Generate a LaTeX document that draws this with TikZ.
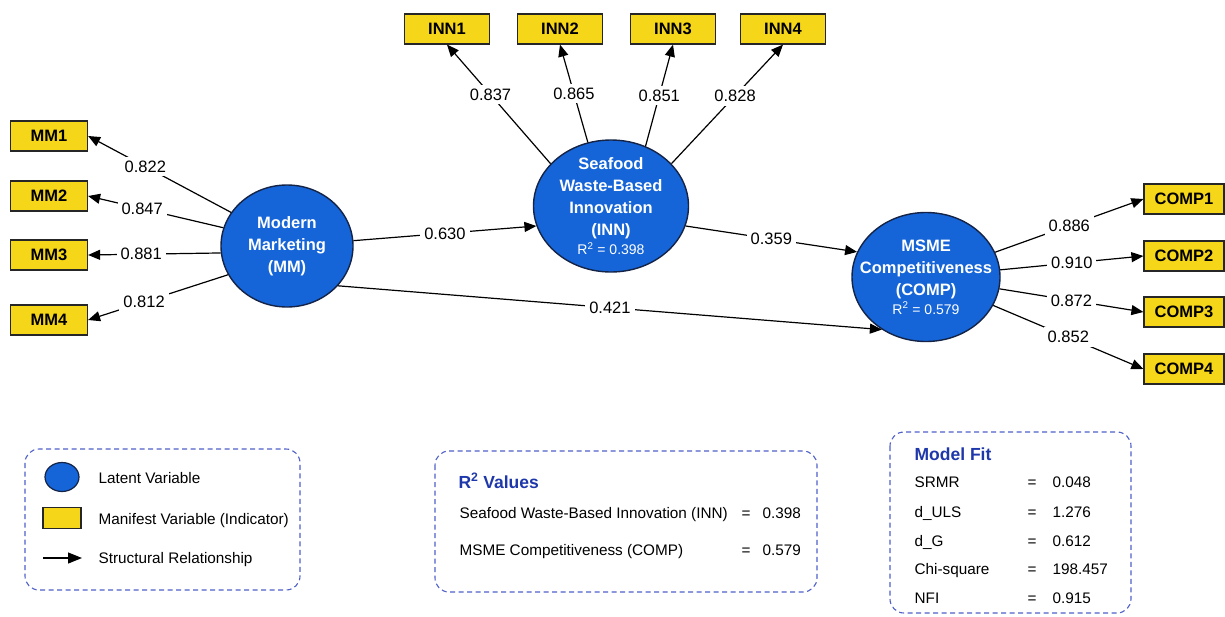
\documentclass[tikz,border=0pt]{standalone}
\usepackage{fontspec}
\setmainfont{Liberation Sans}
\usetikzlibrary{arrows.meta,positioning,shapes.geometric}

\definecolor{latblue}{RGB}{21,101,216}
\definecolor{indyellow}{RGB}{246,214,24}
\definecolor{rimdark}{RGB}{20,35,70}
\definecolor{dashblue}{RGB}{80,96,200}
\definecolor{titleblue}{RGB}{30,55,170}

\tikzset{
  latent/.style={ellipse,draw=rimdark,line width=1.4pt,fill=latblue,text=white,
    font=\fontsize{16.5}{22}\selectfont\bfseries,align=center,inner sep=-30pt},
  indicator/.style={rectangle,draw=black!85,line width=1.2pt,fill=indyellow,
    font=\fontsize{16.5}{20}\selectfont\bfseries,minimum height=30pt,inner sep=0pt},
  load/.style={fill=white,font=\fontsize{16.5}{20}\selectfont,inner sep=4pt},
  legtext/.style={anchor=base west,font=\fontsize{15.3}{18}\selectfont,inner sep=0pt},
  legtitle/.style={anchor=base west,font=\fontsize{17.5}{20}\selectfont\bfseries,text=titleblue,inner sep=0pt},
  legbox/.style={draw=dashblue,line width=1.1pt,dash pattern=on 5pt off 3.5pt,rounded corners=14pt}
}

\begin{document}
\begin{tikzpicture}[x=1pt,y=-1pt,>={Triangle[length=12pt,width=10pt]},line width=1.2pt]
\useasboundingbox (0,0) rectangle (1225,616);

% latente Variablen
\node[latent,minimum width=132pt,minimum height=122pt] (MM) at (287,246) {Modern\\Marketing\\(MM)};
\node[latent,minimum width=155pt,minimum height=132pt] (INN) at (611,206)
  {Seafood\\Waste-Based\\Innovation\\(INN)\\[-3pt]{\fontsize{14}{15}\selectfont\mdseries R\textsuperscript{2} = 0.398}};
\node[latent,minimum width=148pt,minimum height=129pt] (COMP) at (926,277)
  {MSME\\Competitiveness\\(COMP)\\[-3pt]{\fontsize{14}{15}\selectfont\mdseries R\textsuperscript{2} = 0.579}};

% Indikatoren
\foreach \i/\y in {1/136,2/196,3/255,4/320}
  \node[indicator,minimum width=77pt] (MM\i) at (49,\y) {MM\i};
\foreach \i/\x in {1/447,2/560,3/673,4/783}
  \node[indicator,minimum width=85pt] (INN\i) at (\x,29) {INN\i};
\foreach \i/\y in {1/199,2/256,3/312,4/369}
  \node[indicator,minimum width=80pt] (COMP\i) at (1184,\y) {COMP\i};

% Ladungen
\foreach \i/\a/\v in {1/149/0.822,2/164/0.847,3/186/0.881,4/206/0.812}
  \draw[->] (MM.\a) -- node[load,pos=0.6] (lMM\i) {\v} (MM\i.east);
\foreach \i/\a/\p/\v in {1/145/0.58/0.837,2/110/0.5/0.865,3/60/0.5/0.851,4/35/0.57/0.828}
  \draw[->] (INN.\a) -- node[load,pos=\p] (lINN\i) {\v} (INN\i.south);
\foreach \i/\v in {1/0.886,2/0.910,3/0.872,4/0.852}
  \draw[->] (COMP) -- node[load,pos=0.5] (lCOMP\i) {\v} (COMP\i.west);

% Strukturpfade
\draw[->] (MM) -- node[load] (pMI) {0.630} (INN.195);
\draw[->] (INN.345) -- node[load] (pIC) {0.359} (COMP.160);
\draw[->] (MM.322) -- node[load] (pMC) {0.421} (COMP.230);

% Legende
\draw[legbox] (25,449) rectangle (300,590);
\node[latent,minimum width=34pt,minimum height=29pt,line width=1.2pt] (lgLat) at (62,477) {};
\node[indicator,minimum width=38pt,minimum height=21pt] (lgInd) at (62,518) {};
\coordinate (lgA) at (43,558);
\coordinate (lgB) at (82,558);
\draw[->,>={Triangle[length=14pt,width=11pt]}] (lgA) -- (lgB);
\node[legtext] (tLat) at (98,483) {Latent Variable};
\node[legtext] (tInd) at (98,524) {Manifest Variable (Indicator)};
\node[legtext] (tArr) at (98,563) {Structural Relationship};

% R^2 Werte
\draw[legbox] (435,451) rectangle (817,592);
\node[legtitle] (tR) at (458,488) {R\textsuperscript{2} Values};
\foreach \n/\t/\v/\y in {1/Seafood Waste-Based Innovation (INN)/0.398/518,2/MSME Competitiveness (COMP)/0.579/555}{
  \node[legtext] (rN\n) at (459,\y) {\t};
  \node[legtext] (rE\n) at (741,\y) {=};
  \node[legtext] (rV\n) at (762,\y) {\v};
}

% Modellguete
\draw[legbox] (890,432) rectangle (1131,613);
\node[legtitle] (tFit) at (914,460) {Model Fit};
\foreach \n/\t/\v/\y in {1/SRMR/0.048/487,2/d\_ULS/1.276/517,3/d\_G/0.612/546,4/Chi-square/198.457/574,5/NFI/0.915/603}{
  \node[legtext] (fN\n) at (914,\y) {\t};
  \node[legtext] (fE\n) at (1027,\y) {=};
  \node[legtext] (fV\n) at (1052,\y) {\v};
}
\end{tikzpicture}
\end{document}
